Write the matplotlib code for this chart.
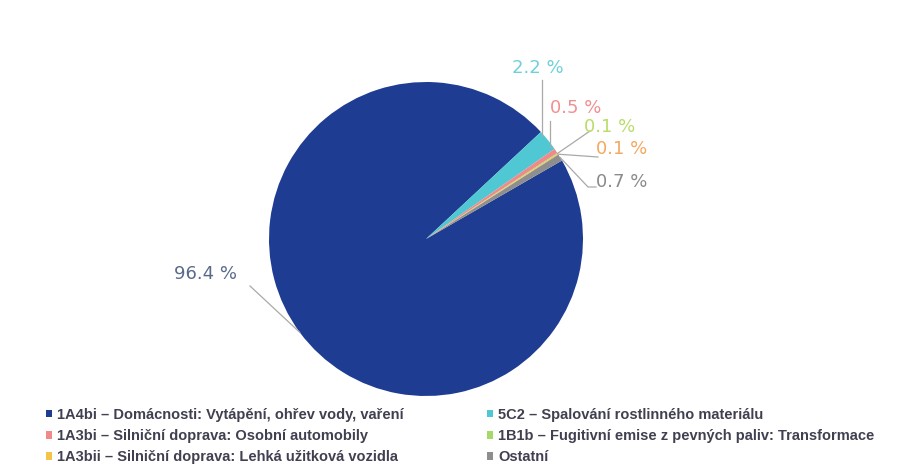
import matplotlib
matplotlib.use("Agg")
import matplotlib.pyplot as plt
from matplotlib.patches import Patch
import numpy as np

categories = [
    "1A4bi – Domácnosti: Vytápění, ohřev vody, vaření",
    "5C2 – Spalování rostlinného materiálu",
    "1A3bi – Silniční doprava: Osobní automobily",
    "1B1b – Fugitivní emise z pevných paliv: Transformace",
    "1A3bii – Silniční doprava: Lehká užitková vozidla",
    "Ostatní",
]
values = [96.4, 2.2, 0.5, 0.1, 0.1, 0.7]
labels = ["96.4 %", "2.2 %", "0.5 %", "0.1 %", "0.1 %", "0.7 %"]
colors = ["#1e3c92", "#4fc8d4", "#f08a8a", "#a6d86a", "#f5c447", "#8e8e8e"]
label_colors = ["#5a6a8a", "#6fd0dc", "#f28f8f", "#b9dc6a", "#f4a860", "#8a8a8a"]

W, H = 905, 476
fig = plt.figure(figsize=(W / 100, H / 100), dpi=100)
cx, cy, r = 426, 239, 157
ax = fig.add_axes([(cx - r) / W, 1 - (cy + r) / H, 2 * r / W, 2 * r / H])
wedges, _ = ax.pie(values, colors=colors, startangle=30, counterclock=False,
                   radius=1, wedgeprops=dict(linewidth=0))
ax.set_xlim(-1, 1)
ax.set_ylim(-1, 1)
ax.set_aspect("equal")
ax.axis("off")

def px(x, y):
    return ((x - cx) / r, (cy - y) / r)

# text positions (pixels) and leader elbow points
text_pos = [(205, 274), (538, 68), (576, 108), (610, 127), (622, 149), (622, 182)]
elbows = [[(250, 286)], [(542, 80)], [(550, 121)], [(590, 131)], [(598, 157)], [(588, 187), (596, 187)]]

for i, w in enumerate(wedges):
    ang = np.deg2rad((w.theta1 + w.theta2) / 2)
    ex, ey = np.cos(ang), np.sin(ang)
    if i == 1:
        x0 = px(542, 0)[0]
        pts = [(x0, np.sqrt(1 - x0 ** 2) * 0.97)] + [px(*p) for p in elbows[i]]
    elif i == 2:
        x0 = px(550, 0)[0]
        pts = [(x0, np.sqrt(1 - x0 ** 2) * 0.96)] + [px(*p) for p in elbows[i]]
    else:
        pts = [(ex, ey)] + [px(*p) for p in elbows[i]]
    xs, ys = zip(*pts)
    ax.plot(xs, ys, color="#a9a9a9", lw=0.9, clip_on=False)
    tx, ty = px(*text_pos[i])
    ax.text(tx, ty, labels[i], color=label_colors[i], fontsize=13,
            family=["DejaVu Sans"], ha="center", va="center",
            clip_on=False)

handles = [Patch(facecolor=c, edgecolor="none") for c in colors]
legfont = dict(family=["Liberation Sans", "DejaVu Sans"], weight="bold", size=10.5)
left_idx = [0, 2, 4]
right_idx = [1, 3, 5]
for idx, xpos in ((left_idx, 40 / W), (right_idx, 481 / W)):
    leg = fig.legend([handles[i] for i in idx], [categories[i] for i in idx],
                     loc="upper left", bbox_to_anchor=(xpos, 1 - 402 / H),
                     frameon=False, prop=legfont, handlelength=0.42, handleheight=0.42,
                     handletextpad=0.35, labelspacing=0.5, borderaxespad=0)
    for t in leg.get_texts():
        t.set_color("#404050")

fig.savefig("out.png", dpi=100, facecolor="white")
